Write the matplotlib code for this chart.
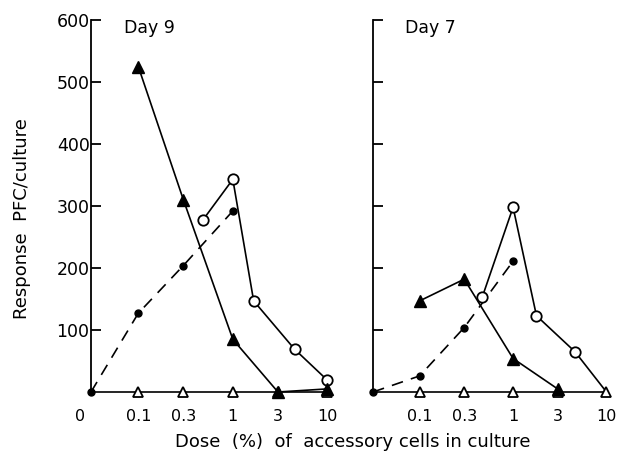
import numpy as np
import matplotlib
matplotlib.use("Agg")
import matplotlib.pyplot as plt
import matplotlib.transforms as mtransforms

# ---- data (dose in %, response PFC/culture) ----
ZERO_POS = -1.5  # position of dose 0 on log10 axis

tick_doses = [0.1, 0.3, 1, 3, 10]
tick_labels = ["0.1", "0.3", "1", "3", "10"]

# Day 9
d9_ftri_x = [0.1, 0.3, 1, 3, 10]
d9_ftri_y = [525, 310, 85, 0, 5]
d9_fcir_x = [0, 0.1, 0.3, 1]
d9_fcir_y = [0, 127, 204, 292]
d9_ocir_x = [0.48, 1, 1.66, 4.5, 10]
d9_ocir_y = [277, 343, 147, 69, 19]
d9_otri_x = [0, 0.1, 0.3, 1, 3, 10]
d9_otri_y = [0, 0, 0, 0, 0, 0]

# Day 7
d7_ftri_x = [0.1, 0.3, 1, 3]
d7_ftri_y = [147, 182, 54, 5]
d7_fcir_x = [0, 0.1, 0.3, 1]
d7_fcir_y = [0, 26, 104, 211]
d7_ocir_x = [0.47, 1, 1.78, 4.6, 10]
d7_ocir_y = [154, 298, 123, 65, 0]
d7_otri_x = [0, 0.1, 0.3, 1, 3, 10]
d7_otri_y = [0, 0, 0, 0, 0, 0]

yticks = [100, 200, 300, 400, 500, 600]


def pos(doses):
    return [np.log10(d) if d > 0 else ZERO_POS for d in doses]


plt.rcParams['font.family'] = ['DejaVu Sans']
fig = plt.figure(figsize=(6.17, 4.55), dpi=100)

H = 455.0
W = 617.0
bottom = 1 - 392 / H
height = 372 / H
ax1 = fig.add_axes([91 / W, bottom, 243 / W, height])
ax2 = fig.add_axes([373 / W, bottom, 240 / W, height])

lw = 1.2
col = 'black'


def draw(ax, ftx, fty, fcx, fcy, ocx, ocy, otx, oty, title, show_ylabels, zero_label):
    # open triangles baseline (line from zero)
    ax.plot(pos(otx), oty, '-', color=col, lw=lw, zorder=2, clip_on=False)
    ax.plot(pos(otx)[1:], oty[1:], linestyle='none', marker='^', ms=7.5,
            mfc='white', mec=col, mew=1.3, zorder=4, clip_on=False)
    # open circles
    ax.plot(pos(ocx), ocy, '-', color=col, lw=lw, zorder=2, clip_on=False)
    ax.plot(pos(ocx)[:-1] if ocy[-1] == 0 else pos(ocx),
            ocy[:-1] if ocy[-1] == 0 else ocy,
            linestyle='none', marker='o', ms=7.5, mfc='white', mec=col,
            mew=1.3, zorder=5, clip_on=False)
    # filled circles dashed
    ax.plot(pos(fcx), fcy, color=col, lw=lw, dashes=(7, 5), zorder=2,
            clip_on=False)
    ax.plot(pos(fcx), fcy, linestyle='none', marker='o', ms=5, mfc=col,
            mec=col, zorder=5, clip_on=False)
    # filled triangles
    ax.plot(pos(ftx), fty, '-', color=col, lw=lw, marker='^', ms=9,
            mfc=col, mec=col, zorder=6, clip_on=False)

    for s in ['top', 'right', 'bottom']:
        ax.spines[s].set_visible(False)
    ax.spines['left'].set_linewidth(1.3)
    ax.set_yticks(yticks)
    ax.tick_params(axis='y', direction='in', length=7, width=1.3, labelsize=12.5,
                   pad=1)
    if not show_ylabels:
        ax.set_yticklabels([])
    xt = pos(tick_doses)
    xl = list(tick_labels)
    if zero_label:
        xt = [ZERO_POS] + xt
        xl = ["0"] + xl
    ax.set_xticks(xt)
    ax.set_xticklabels(xl)
    ax.tick_params(axis='x', length=0, labelsize=11.5, pad=12)
    if zero_label:
        lab = ax.get_xticklabels()[0]
        lab.set_transform(lab.get_transform() +
                          mtransforms.ScaledTranslation(-11 / 100, 0, fig.dpi_scale_trans))
    ax.set_xlim(ZERO_POS, 1.07)
    ax.set_ylim(0, 600)
    ax.text(0.135, 0.978, title, transform=ax.transAxes, fontsize=12.5,
            va='center', ha='left')
    ax.patch.set_visible(False)


draw(ax1, d9_ftri_x, d9_ftri_y, d9_fcir_x, d9_fcir_y, d9_ocir_x, d9_ocir_y,
     d9_otri_x, d9_otri_y, "Day 9", True, True)
draw(ax2, d7_ftri_x, d7_ftri_y, d7_fcir_x, d7_fcir_y, d7_ocir_x, d7_ocir_y,
     d7_otri_x, d7_otri_y, "Day 7", False, False)

fig.text(22 / W, 1 - 219 / H, "Response  PFC/culture", rotation=90,
         fontsize=13, va='center', ha='center')
fig.text(353 / W, 1 - 442 / H, "Dose  (%)  of  accessory cells in culture",
         fontsize=13, va='center', ha='center')

fig.savefig("out.png", dpi=100)
